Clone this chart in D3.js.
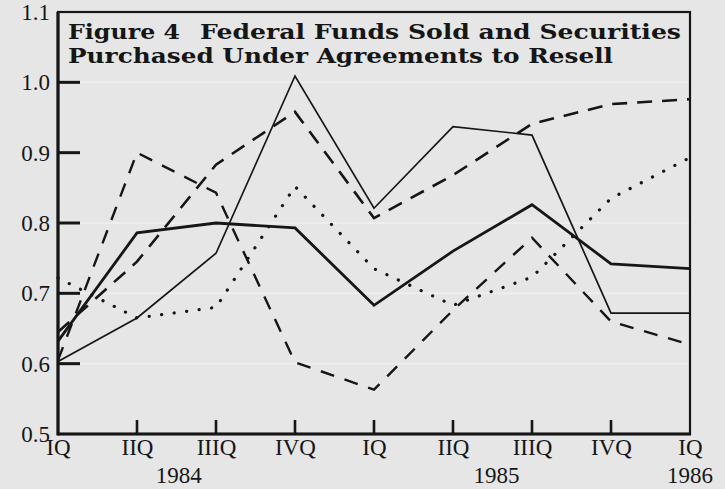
<!DOCTYPE html>
<html>
<head>
<meta charset="utf-8">
<script src="https://cdn.jsdelivr.net/npm/d3@7"></script>
<style>
  html, body { margin: 0; padding: 0; background: #e6e6e6; }
  svg { display: block; }
</style>
</head>
<body>
<svg width="725" height="489"></svg>
<script>
// Quarter labels along the bottom, and the year under them
const quarters = ["IQ", "IIQ", "IIIQ", "IVQ", "IQ", "IIQ", "IIIQ", "IVQ", "IQ"];
const years = ["1984", "1985", "1986"];
const yearPos = [1.53, 5.55, 8];

const yTicks = [0.5, 0.6, 0.7, 0.8, 0.9, 1.0, 1.1];
const gridValues = [0.6, 0.7, 0.8, 1.0];

// series, one value per quarter
const thickSolid = [0.632, 0.786, 0.800, 0.793, 0.683, 0.760, 0.826, 0.742, 0.735];
const thinSolid = [0.603, 0.665, 0.757, 1.009, 0.821, 0.937, 0.925, 0.672, 0.672];
const longDash = [0.645, 0.745, 0.883, 0.958, 0.807, 0.868, 0.941, 0.969, 0.976];
const shortDash = [0.605, 0.900, 0.843, 0.602, 0.563, 0.676, 0.779, 0.660, 0.627];
const dotted = [0.722, 0.665, 0.680, 0.852, 0.735, 0.683, 0.723, 0.835, 0.893];

const svg = d3.select("svg");
const ink = "#161616";

const x = d3.scaleLinear().domain([0, quarters.length - 1]).range([58, 690]);
const y = d3.scaleLinear().domain([0.5, 1.1]).range([434, 12]);

// faint light streaks across the plot
svg.append("g")
  .selectAll("line")
  .data(gridValues)
  .enter()
  .append("line")
  .attr("x1", x(0) + 22)
  .attr("x2", x(8))
  .attr("y1", (d) => y(d))
  .attr("y2", (d) => y(d))
  .attr("stroke", "#f0f0f0")
  .attr("stroke-width", 1.5);

// series lines
const line = d3.line().x((d, i) => x(i)).y((d) => y(d));

const series = [
  { values: dotted, width: 3.2, dash: "0.1 12.5", cap: "round" },
  { values: shortDash, width: 2.4, dash: "14 11", cap: "butt" },
  { values: longDash, width: 2.6, dash: "15 10", cap: "butt" },
  { values: thinSolid, width: 1.7, dash: null, cap: "butt" },
  { values: thickSolid, width: 2.8, dash: null, cap: "butt" },
];

svg.append("g")
  .selectAll("path")
  .data(series)
  .enter()
  .append("path")
  .attr("d", (d) => line(d.values))
  .attr("fill", "none")
  .attr("stroke", ink)
  .attr("stroke-width", (d) => d.width)
  .attr("stroke-dasharray", (d) => d.dash)
  .attr("stroke-linecap", (d) => d.cap)
  .attr("stroke-linejoin", "miter");

// frame
svg.append("rect")
  .attr("x", x(0))
  .attr("y", y(1.1))
  .attr("width", x(8) - x(0))
  .attr("height", y(0.5) - y(1.1))
  .attr("fill", "none")
  .attr("stroke", ink)
  .attr("stroke-width", 2.2);

svg.append("line")
  .attr("x1", x(0)).attr("x2", x(0))
  .attr("y1", y(1.1)).attr("y2", y(0.5) + 1.5)
  .attr("stroke", ink).attr("stroke-width", 3.2);

svg.append("line")
  .attr("x1", x(0)).attr("x2", x(8) + 1)
  .attr("y1", y(0.5)).attr("y2", y(0.5))
  .attr("stroke", ink).attr("stroke-width", 3.2);

// y axis, ticks pointing in
const yAxis = d3.axisLeft(y)
  .tickValues(yTicks)
  .tickSize(0)
  .tickPadding(8)
  .tickFormat(d3.format(".1f"));

const gy = svg.append("g")
  .attr("transform", `translate(${x(0)},0)`)
  .call(yAxis);
gy.select(".domain").remove();
gy.selectAll("text")
  .attr("fill", ink)
  .attr("font-family", "Liberation Serif")
  .attr("font-size", 23);

svg.append("g")
  .selectAll("line")
  .data(yTicks.filter((d) => d > 0.5 && d < 1.1))
  .enter()
  .append("line")
  .attr("x1", x(0))
  .attr("x2", x(0) + 22)
  .attr("y1", (d) => y(d))
  .attr("y2", (d) => y(d))
  .attr("stroke", ink)
  .attr("stroke-width", 3);

// x axis
const xAxis = d3.axisBottom(x)
  .tickValues(d3.range(quarters.length))
  .tickSize(0)
  .tickPadding(5)
  .tickFormat((d) => quarters[d]);

const gx = svg.append("g")
  .attr("transform", `translate(0,${y(0.5)})`)
  .call(xAxis);
gx.select(".domain").remove();
gx.selectAll("text")
  .attr("fill", ink)
  .attr("font-family", "Liberation Serif")
  .attr("font-size", 23);

svg.append("g")
  .selectAll("line")
  .data(d3.range(1, quarters.length - 1))
  .enter()
  .append("line")
  .attr("x1", (d) => x(d))
  .attr("x2", (d) => x(d))
  .attr("y1", y(0.5))
  .attr("y2", y(0.5) - 14)
  .attr("stroke", ink)
  .attr("stroke-width", 2.6);

svg.append("g")
  .selectAll("text")
  .data(years)
  .enter()
  .append("text")
  .attr("x", (d, i) => x(yearPos[i]))
  .attr("y", 483)
  .attr("text-anchor", "middle")
  .attr("fill", ink)
  .attr("font-family", "Liberation Serif")
  .attr("font-size", 23)
  .text((d) => d);

// title
const title = svg.append("g")
  .attr("fill", ink)
  .attr("font-family", "DejaVu Serif")
  .attr("font-weight", "bold")
  .attr("font-size", 21);

title.append("text").attr("x", 68).attr("y", 39)
  .attr("textLength", 112).attr("lengthAdjust", "spacingAndGlyphs")
  .text("Figure 4");
title.append("text").attr("x", 200).attr("y", 39)
  .attr("textLength", 481).attr("lengthAdjust", "spacingAndGlyphs")
  .text("Federal Funds Sold and Securities");
title.append("text").attr("x", 68).attr("y", 63)
  .attr("textLength", 545).attr("lengthAdjust", "spacingAndGlyphs")
  .text("Purchased Under Agreements to Resell");
</script>
</body>
</html>
